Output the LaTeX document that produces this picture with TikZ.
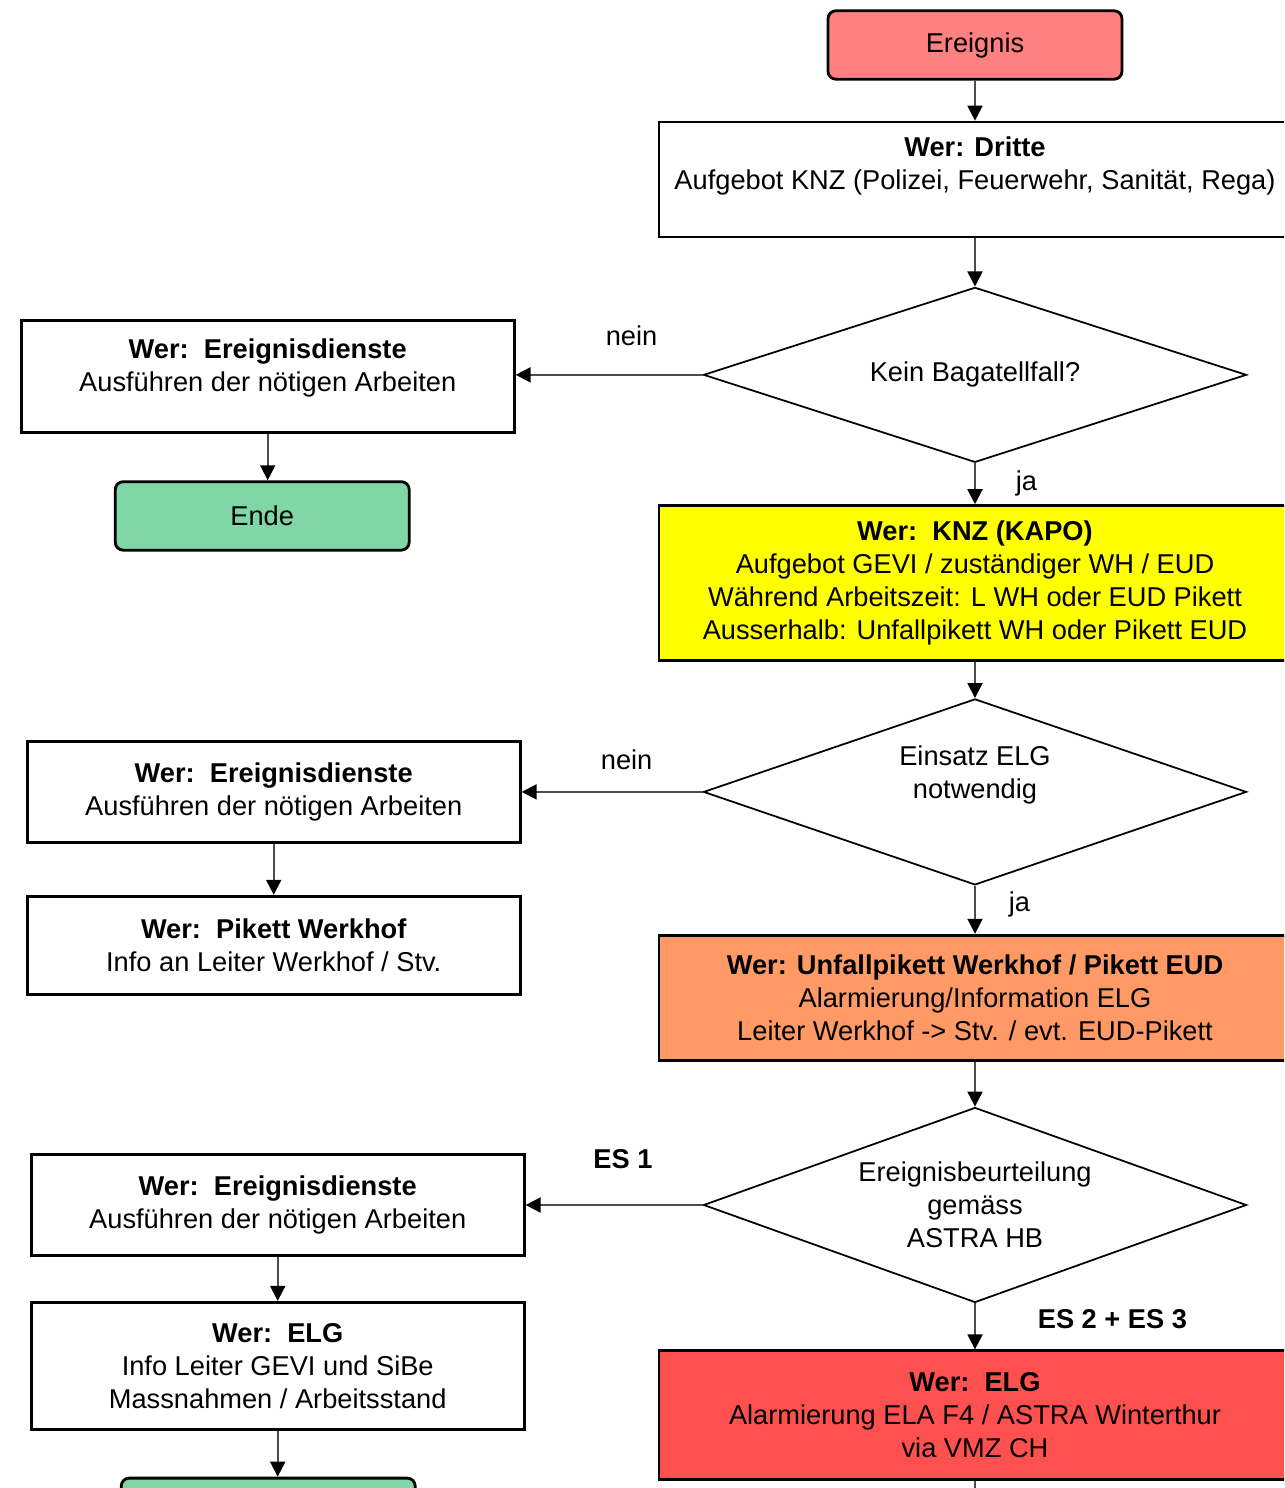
\documentclass[tikz,border=0pt]{standalone}
\usepackage{fontspec}
\setmainfont{Liberation Sans}
\usepackage{tikz}
\usetikzlibrary{positioning}
\usetikzlibrary{shapes.geometric,arrows.meta}

\definecolor{ereignisrot}{RGB}{255,128,128}
\definecolor{endegruen}{RGB}{128,214,166}
\definecolor{knzgelb}{RGB}{255,255,0}
\definecolor{pikettorange}{RGB}{255,153,102}
\definecolor{elgrot}{RGB}{255,80,80}

\newcommand\flowfont{\fontsize{15.5}{18.8}\selectfont}

\tikzset{
  startend/.style={draw, line width=1.6pt, rounded corners=0.16cm, minimum width=5.88cm, minimum height=1.37cm},
  mainbox/.style={draw, line width=1.6pt, align=center, minimum width=12.64cm},
  sidebox/.style={draw, line width=1.6pt, align=center, minimum width=9.86cm},
  entscheid/.style={draw, diamond, line width=1pt, align=center, inner sep=1pt, aspect=2.8, minimum width=10.86cm},
  pfeil/.style={draw=black!70, line width=1.1pt, -{Triangle[length=0.3cm,width=0.3cm,color=black]}}
}

\begin{document}
\begin{tikzpicture}[node distance=1cm, every node/.style={font=\flowfont}]
    \useasboundingbox (0,0) rectangle (25.68,-29.76);
    \clip (0,0) rectangle (25.68,-29.76);

    % Hauptspalte
    \node(E) [startend, fill=ereignisrot] at (19.5,-0.9) {Ereignis};
    \node(D) [mainbox, below=0.8cm of E, minimum height=2.3cm] {\textbf{Wer: Dritte}\\Aufgebot KNZ (Polizei, Feuerwehr, Sanität, Rega)\rule[-0.64cm]{0pt}{0pt}};
    \node(Q1) [entscheid, below=0.96cm of D, minimum height=3.5cm] {Kein Bagatellfall?};
    \node(Y) [mainbox, fill=knzgelb, below=0.82cm of Q1, minimum height=3.1cm] {\textbf{Wer:~~KNZ (KAPO)}\\Aufgebot GEVI / zuständiger WH / EUD\\Während Arbeitszeit: L WH oder EUD Pikett\\Ausserhalb: Unfallpikett WH oder Pikett EUD};
    \node(Q2) [entscheid, below=0.72cm of Y, minimum height=3.72cm] {Einsatz ELG\\notwendig\rule[-0.78cm]{0pt}{0pt}};
    \node(O) [mainbox, fill=pikettorange, below=0.96cm of Q2, minimum height=2.5cm] {\textbf{Wer: Unfallpikett Werkhof / Pikett EUD}\\Alarmierung/Information ELG\\Leiter Werkhof -> Stv. / evt. EUD-Pikett};
    \node(Q3) [entscheid, below=0.9cm of O, minimum height=3.9cm] {Ereignisbeurteilung\\gemäss\\ASTRA HB};
    \node(R) [mainbox, fill=elgrot, below=0.92cm of Q3, minimum height=2.58cm] {\textbf{Wer:~~ELG}\\Alarmierung ELA F4 / ASTRA Winterthur\\via VMZ CH};
    \coordinate[below=0.8cm of R] (R2);

    % linke Spalte
    \node(L1) [sidebox, left=3.74cm of Q1, minimum height=2.24cm, yshift=-0.04cm] {\textbf{Wer:~~Ereignisdienste}\\Ausführen der nötigen Arbeiten\rule[-0.45cm]{0pt}{0pt}};
    \node(Ende1) [startend, fill=endegruen, below=0.92cm of L1, xshift=-0.11cm] {Ende};
    \node(L2) [sidebox, left=3.62cm of Q2, minimum height=2.02cm] {\textbf{Wer:~~Ereignisdienste}\\Ausführen der nötigen Arbeiten};
    \node(P) [sidebox, below=1.02cm of L2, minimum height=1.96cm] {\textbf{Wer:~~Pikett Werkhof}\\Info an Leiter Werkhof / Stv.};
    \node(L3) [sidebox, left=3.54cm of Q3, minimum height=2.02cm] {\textbf{Wer:~~Ereignisdienste}\\Ausführen der nötigen Arbeiten};
    \node(G) [sidebox, below=0.88cm of L3, minimum height=2.54cm] {\textbf{Wer:~~ELG}\\Info Leiter GEVI und SiBe\\Massnahmen / Arbeitsstand};
    \node(Ende2) [startend, fill=endegruen, below=0.92cm of G, xshift=-0.19cm] {};

    \draw[pfeil] (E) -- (D);
    \draw[pfeil] (D) -- (Q1);
    \draw[pfeil] (Q1) -- node[pos=0.5, right=0.68cm] (ja1) {ja} (Y);
    \draw[pfeil] (Y) -- (Q2);
    \draw[pfeil] (Q2) -- node[pos=0.39, right=0.54cm] (ja2) {ja} (O);
    \draw[pfeil] (O) -- (Q3);
    \draw[pfeil] (Q3) -- node[pos=0.35, right=1.12cm] (es23) {\textbf{ES 2 + ES 3}} (R);
    \draw[pfeil] (R) -- (R2);

    \draw[pfeil] (Q1.west) -- node[pos=0.38, above=0.45cm] (nein1) {nein} (Q1.west -| L1.east);
    \draw[pfeil] (Q2.west) -- node[pos=0.42, above=0.31cm] (nein2) {nein} (Q2.west -| L2.east);
    \draw[pfeil] (Q3.west) -- node[pos=0.45, above=0.58cm] (es1) {\textbf{ES 1}} (Q3.west -| L3.east);

    \draw[pfeil] (L1) -- (L1 |- Ende1.north);
    \draw[pfeil] (L2) -- (P);
    \draw[pfeil] (L3) -- (G);
    \draw[pfeil] (G) -- (G |- Ende2.north);
\end{tikzpicture}
\end{document}
